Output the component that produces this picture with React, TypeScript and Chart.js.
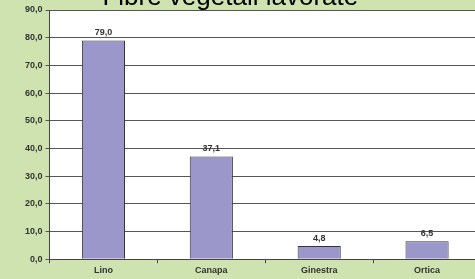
import React, { useEffect, useRef } from "react";
import { Chart, registerables } from "chart.js";

Chart.register(...registerables);

const titleText = "Fibre vegetali lavorate";
const categories = ["Lino", "Canapa", "Ginestra", "Ortica"];
const values = [79.0, 37.1, 4.8, 6.5];
const yMin = 0;
const yMax = 90;
const yStep = 10;

const fmt = (v: number) => v.toFixed(1).replace(".", ",");

const CW = 490;
const CH = 279;
const FONT = "'Liberation Sans', Arial, sans-serif";

export default function App() {
  const ref = useRef<HTMLCanvasElement | null>(null);

  useEffect(() => {
    if (!ref.current) return;
    const bgPlugin = {
      id: "plotBg",
      beforeDraw(chart: any) {
        const { ctx, chartArea } = chart;
        ctx.save();
        // title (partly cut off at the top, as in the reference)
        ctx.font = `26px ${FONT}`;
        ctx.fillStyle = "#000000";
        ctx.textAlign = "center";
        ctx.textBaseline = "alphabetic";
        ctx.fillText(titleText, chartArea.left + (chartArea.right - chartArea.left) * 0.419, chartArea.top - 5);
        ctx.fillStyle = "#ffffff";
        ctx.fillRect(chartArea.left, chartArea.top, chartArea.right - chartArea.left, chartArea.bottom - chartArea.top);
        ctx.restore();
      },
    };
    const labelPlugin = {
      id: "valueLabels",
      afterDatasetsDraw(chart: any) {
        const { ctx } = chart;
        const meta = chart.getDatasetMeta(0);
        ctx.save();
        ctx.font = `bold 9px ${FONT}`;
        ctx.fillStyle = "#333333";
        ctx.textAlign = "center";
        ctx.textBaseline = "bottom";
        meta.data.forEach((el: any, i: number) => {
          ctx.fillText(fmt(values[i]), el.x, el.y - 3);
        });
        ctx.restore();
      },
    };
    const chart = new Chart(ref.current, {
      type: "bar",
      data: {
        labels: categories,
        datasets: [
          {
            data: values,
            backgroundColor: "#9b97cb",
            borderColor: "#333333",
            borderWidth: 1,
            categoryPercentage: 1,
            barPercentage: 0.4,
          },
        ],
      },
      options: {
        responsive: false,
        animation: false,
        layout: { padding: { top: 10, right: 9, bottom: 1, left: 22 } },
        plugins: {
          legend: { display: false },
          tooltip: { enabled: false },
          title: { display: false },
        },
        scales: {
          x: {
            offset: true,
            grid: {
              offset: true,
              drawOnChartArea: false,
              drawTicks: true,
              tickLength: 4,
              color: "#444444",
            },
            border: { color: "#444444", width: 1 },
            ticks: {
              color: "#333333",
              padding: 2,
              font: { family: FONT, size: 9, weight: "bold" },
            },
          },
          y: {
            min: yMin,
            max: yMax,
            grid: {
              color: "#555555",
              tickLength: 4,
              drawTicks: true,
            },
            border: { color: "#444444", width: 1 },
            ticks: {
              stepSize: yStep,
              color: "#333333",
              padding: 3,
              font: { family: FONT, size: 9, weight: "bold" },
              callback: (v: any) => fmt(Number(v)),
            },
          },
        },
      },
      plugins: [bgPlugin, labelPlugin],
    });
    return () => chart.destroy();
  }, []);

  return (
    <div
      style={{
        position: "fixed",
        left: 0,
        top: 0,
        width: 475,
        height: 279,
        overflow: "hidden",
        background: "#cfe3b0",
      }}
    >
      <canvas ref={ref} width={CW} height={CH} style={{ width: CW, height: CH, display: "block" }} />
    </div>
  );
}
